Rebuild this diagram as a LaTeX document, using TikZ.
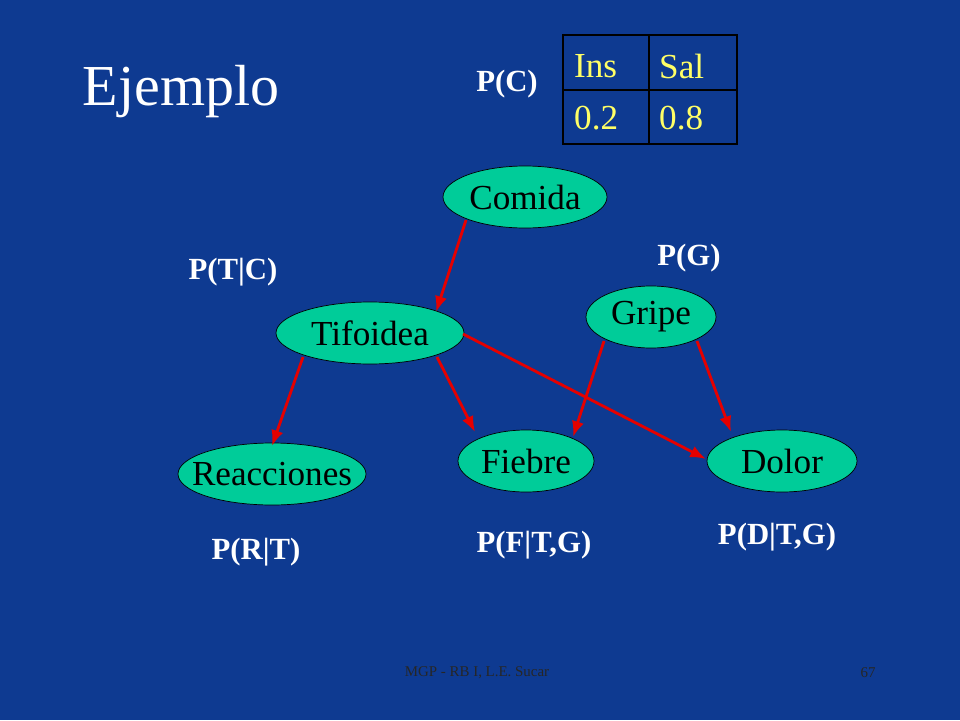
\documentclass[tikz,border=0pt]{standalone}
\usepackage{fontspec}
\setmainfont{Liberation Serif}
\definecolor{bg}{RGB}{14,58,145}
\definecolor{nd}{RGB}{0,204,153}
\definecolor{yl}{RGB}{255,255,102}
\begin{document}
\begin{tikzpicture}[x=0.02cm,y=-0.02cm,
 nodeell/.style={ellipse,draw=black,fill=nd,font=\fontsize{20}{22}\selectfont,inner sep=0},
 arr/.style={red!90!black,line width=1.6pt,-{Latex[length=9pt,width=7pt]}},
 lab/.style={text=white,font=\fontsize{17.5}{19}\selectfont\bfseries},
 cell/.style={text=yl,font=\fontsize{20}{22}\selectfont,anchor=west}]
\usetikzlibrary{shapes.geometric,arrows.meta}
\fill[bg] (0,0) rectangle (960,720);
\node[text=white,font=\fontsize{33}{35}\selectfont] (t) at (181,92) {Ejemplo};
% table
\draw[line width=1.5pt] (563,35) rectangle (737,144) (649,35) -- (649,144) (563,90) -- (737,90);
\node[cell] (c1) at (568,66) {Ins};
\node[cell] (c2) at (653,66) {Sal};
\node[cell] (c3) at (568,118) {0.2};
\node[cell] (c4) at (653,118) {0.8};
% nodes
\node[nodeell,minimum width=3.28cm,minimum height=1.24cm] (C) at (525,197) {Comida};
\node[nodeell,minimum width=3.76cm,minimum height=1.24cm] (T) at (370,333) {Tifoidea};
\node[nodeell,minimum width=2.6cm,minimum height=1.24cm] (G) at (651,317) {Gripe};
\node[nodeell,inner xsep=-0.28cm,minimum width=3.76cm,minimum height=1.24cm] (R) at (272,474) {Reacciones};
\node[nodeell,minimum width=2.72cm,minimum height=1.24cm] (F) at (526,461) {Fiebre};
\node[nodeell,minimum width=3.0cm,minimum height=1.24cm] (D) at (782,461) {Dolor};
\coordinate (c0) at (466,220); \coordinate (t0) at (436,312);
\draw[arr] (c0) -- (t0);
\coordinate (a1) at (303,357); \coordinate (b1) at (272,446);
\draw[arr] (a1) -- (b1);
\coordinate (a2) at (437,357); \coordinate (b2) at (475,432);
\draw[arr] (a2) -- (b2);
\coordinate (a3) at (463,334); \coordinate (b3) at (706,459);
\draw[arr] (a3) -- (b3);
\coordinate (a4) at (604,341); \coordinate (b4) at (573,437);
\draw[arr] (a4) -- (b4);
\coordinate (a5) at (697,341); \coordinate (b5) at (731,432);
\draw[arr] (a5) -- (b5);
% labels
\node[lab] (l1) at (507,84) {P(C)};
\node[lab] (l2) at (233,272) {P(T|C)};
\node[lab] (l3) at (689,258) {P(G)};
\node[lab] (l4) at (256,552) {P(R|T)};
\node[lab] (l5) at (534,545) {P(F|T,G)};
\node[lab] (l6) at (777,537) {P(D|T,G)};
\node[text=black!85,font=\fontsize{8.5}{10}\selectfont] (f1) at (477,673) {MGP - RB I, L.E. Sucar};
\node[text=black!85,font=\fontsize{8.5}{10}\selectfont] (f2) at (868,673) {67};
\end{tikzpicture}
\end{document}
